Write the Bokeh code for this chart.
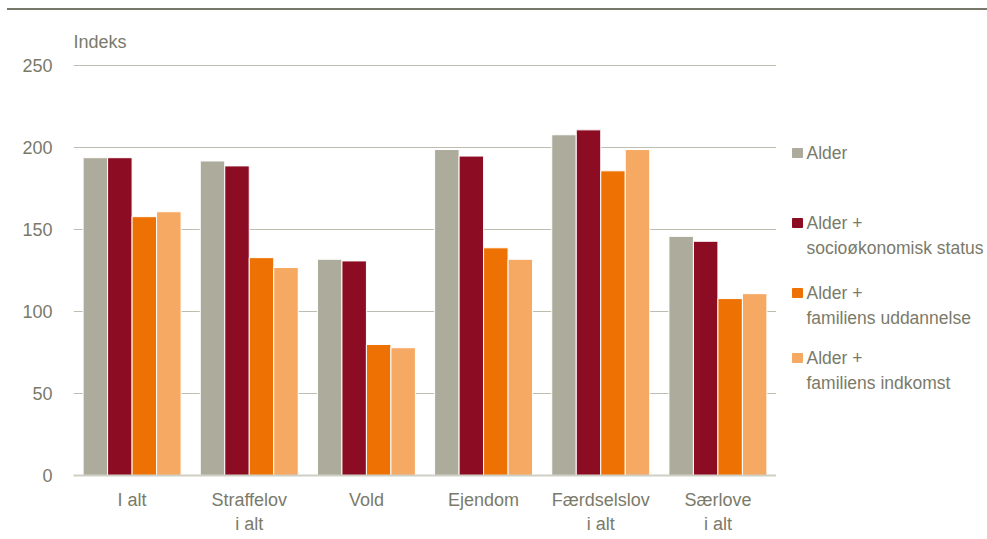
from bokeh.plotting import figure
from bokeh.models import FactorRange, Range1d, ColumnDataSource, Div
from bokeh.layouts import column, row
from bokeh.transform import dodge
from bokeh.embed import file_html
from bokeh.resources import INLINE
from bokeh.core.properties import value

categories = ["I alt", "Straffelov\ni alt", "Vold", "Ejendom", "Færdselslov\ni alt", "Særlove\ni alt"]
alder = [194, 192, 132, 199, 208, 146]
socio = [194, 189, 131, 195, 211, 143]
uddannelse = [158, 133, 80, 139, 186, 108]
indkomst = [161, 127, 78, 132, 199, 111]
series_names = ["Alder", "Alder +\nsocioøkonomisk status", "Alder +\nfamiliens uddannelse", "Alder +\nfamiliens indkomst"]
series_keys = ["alder", "socio", "uddannelse", "indkomst"]
colors = ["#adab9b", "#8b0c23", "#ee7203", "#f6a963"]
yticks = [0, 50, 100, 150, 200, 250]

FONT = "Liberation Sans"
FSIZE = "18px"
TXT = "#7a7a6a"

# ---- top rule ----
rule = Div(text="", width=980, height=2, margin=(8, 0, 0, 7),
           styles={"background-color": "#78786a"})

# ---- main chart ----
src = ColumnDataSource(dict(cat=categories, alder=alder, socio=socio,
                            uddannelse=uddannelse, indkomst=indkomst))

TOP_B, FRAME_H, BOT_B = 54, 411, 62
MAIN_W = 776
p = figure(width=MAIN_W, height=TOP_B + FRAME_H + BOT_B,
           x_range=FactorRange(*categories), y_range=Range1d(0, 250.9),
           output_backend="svg", toolbar_location=None, title="Indeks",
           min_border_left=73, min_border_right=0, min_border_top=TOP_B, min_border_bottom=BOT_B)
p.outline_line_color = None
p.title.align = "left"
p.title.text_font = FONT
p.title.text_font_size = FSIZE
p.title.text_font_style = "normal"
p.title.text_color = TXT
p.title.standoff = 26

offsets = [-0.3136, -0.1045, 0.1045, 0.3136]
for key, off, col in zip(series_keys, offsets, colors):
    p.vbar(x=dodge("cat", off, range=p.x_range), top=key, width=0.209, source=src,
           fill_color=col, line_color="white", line_width=1)

p.xgrid.grid_line_color = None
p.ygrid.grid_line_color = "#bdbdb0"
p.ygrid.grid_line_width = 1
p.yaxis.ticker = yticks
p.yaxis.axis_line_color = None
p.yaxis.major_tick_line_color = None
p.yaxis.minor_tick_line_color = None
p.yaxis.major_label_standoff = 15
p.xaxis.axis_line_color = "#cfcfc6"
p.xaxis.axis_line_width = 2
p.xaxis.major_tick_line_color = None
p.xaxis.major_label_standoff = 8
for ax in (p.xaxis, p.yaxis):
    ax.major_label_text_font = FONT
    ax.major_label_text_font_size = FSIZE
    ax.major_label_text_color = TXT

# ---- legend panel (its frame is aligned with the main frame; coordinates in page pixels) ----
LEG_W = 211
FRAME_TOP = 10 + TOP_B
FRAME_BOT = FRAME_TOP + FRAME_H
leg = figure(width=LEG_W, height=TOP_B + FRAME_H + BOT_B,
             x_range=Range1d(MAIN_W, MAIN_W + LEG_W), y_range=Range1d(FRAME_BOT, FRAME_TOP),
             x_axis_type=None, y_axis_type=None, output_backend="svg", toolbar_location=None,
             min_border=0, min_border_left=0, min_border_right=0,
             min_border_top=TOP_B, min_border_bottom=BOT_B)
leg.outline_line_color = None
leg.grid.grid_line_color = None

entry_y = [152, 222, 292, 357]
sq_x0, sq_x1, txt_x = 792, 802, 806
qs = dict(left=[], right=[], top=[], bottom=[], color=[])
ts = dict(x=[], y=[], text=[])
for name, col, ey in zip(series_names, colors, entry_y):
    qs["left"].append(sq_x0); qs["right"].append(sq_x1)
    qs["top"].append(ey - 4); qs["bottom"].append(ey + 5); qs["color"].append(col)
    for i, line in enumerate(name.split("\n")):
        ts["x"].append(txt_x); ts["y"].append(ey + i * 25); ts["text"].append(line)
leg.quad(left="left", right="right", top="top", bottom="bottom", color="color",
         source=ColumnDataSource(qs))
leg.text(x="x", y="y", text="text", source=ColumnDataSource(ts), text_font=value(FONT),
         text_font_size="17.5px", text_color=TXT, text_baseline="middle", text_align="left")

layout = column(rule, row(p, leg))
open("out.html", "w").write(file_html(layout, INLINE))
